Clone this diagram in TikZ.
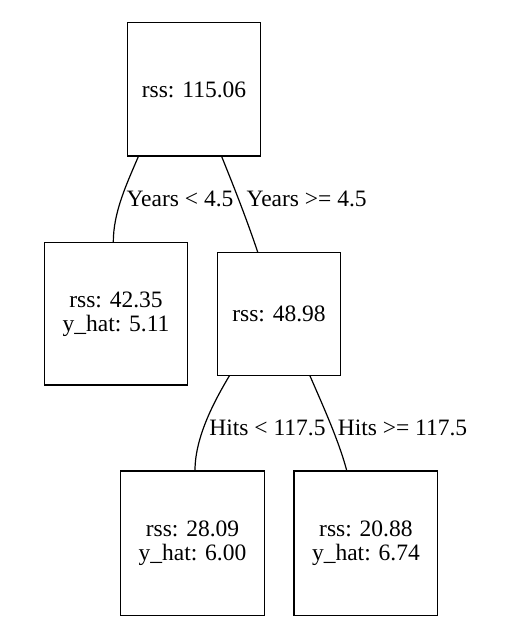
\documentclass[tikz,border=0pt]{standalone}
\usepackage{fontspec}
\setmainfont{Liberation Serif}
\begin{document}
\begin{tikzpicture}[x=1pt,y=-1pt,
  treebox/.style={draw=black,line width=1.2pt,rectangle,inner sep=0pt,align=center,
    font=\fontsize{23.5}{24}\selectfont},
  edgelabel/.style={inner sep=0pt,anchor=base,font=\fontsize{23.5}{24}\selectfont},
  treeedge/.style={draw=black,line width=1.2pt}]
\useasboundingbox[fill=white] (0,0) rectangle (504,629);
\node[treebox,minimum width=133.4pt,minimum height=133.3pt] (root) at (194,89.4) {rss: 115.06};
\node[treebox,minimum width=142.6pt,minimum height=142.3pt] (left) at (116,313.8) {rss: 42.35\\y\_hat: 5.11};
\node[treebox,minimum width=123.4pt,minimum height=122.6pt] (right) at (279,314) {rss: 48.98};
\node[treebox,minimum width=143.6pt,minimum height=144.3pt] (ll) at (192.5,543.2) {rss: 28.09\\y\_hat: 6.00};
\node[treebox,minimum width=143.7pt,minimum height=144.3pt] (lr) at (365.9,543.2) {rss: 20.88\\y\_hat: 6.74};
\coordinate (r1) at ([xshift=-55.7pt]root.south);
\coordinate (r2) at ([xshift=27.7pt]root.south);
\coordinate (l1) at ([xshift=-2.7pt]left.north);
\coordinate (rt) at ([xshift=-21.3pt]right.north);
\coordinate (rb1) at ([xshift=-49.7pt]right.south);
\coordinate (rb2) at ([xshift=31pt]right.south);
\coordinate (c1) at ([xshift=2.5pt]ll.north);
\coordinate (c2) at ([xshift=-19.2pt]lr.north);
\draw[treeedge] (r1) .. controls +(-11.5,27) and +(0,-30) .. (l1);
\draw[treeedge] (r2) .. controls +(13,32) and +(-10,-30) .. (rt);
\draw[treeedge] (rb1) .. controls +(-13,22) and +(0,-35) .. (c1);
\draw[treeedge] (rb2) .. controls +(13,30) and +(-8,-30) .. (c2);
\node[edgelabel] (lab1) at (180,206.5) {Years < 4.5};
\node[edgelabel] (lab2) at (306.7,206.5) {Years >= 4.5};
\node[edgelabel] (lab3) at (267.5,435) {Hits < 117.5};
\node[edgelabel] (lab4) at (402.5,435) {Hits >= 117.5};
\end{tikzpicture}
\end{document}
